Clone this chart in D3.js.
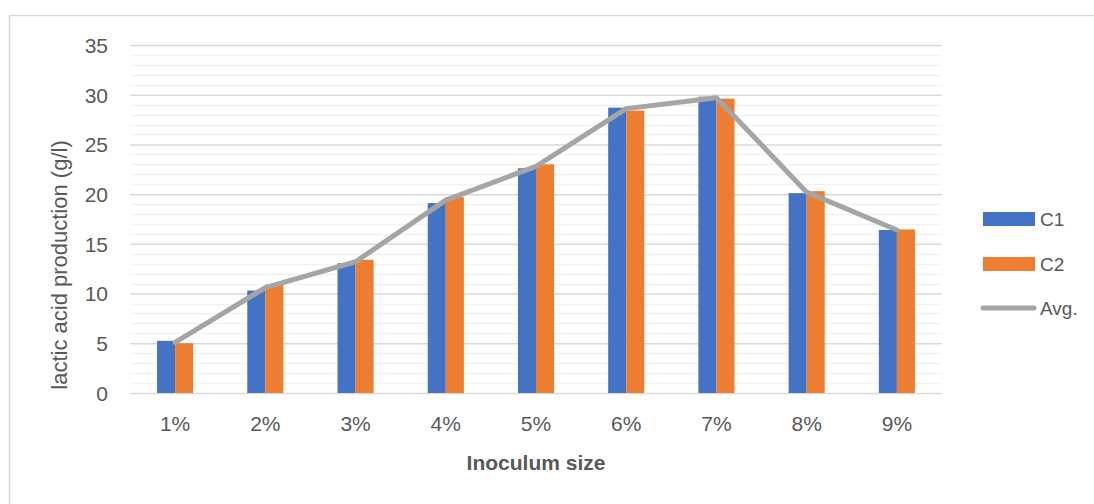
<!DOCTYPE html>
<html>
<head>
<meta charset="utf-8">
<script src="https://cdn.jsdelivr.net/npm/d3@7"></script>
<style>
  html, body { margin: 0; padding: 0; background: #fff; }
  svg { display: block; font-family: "Liberation Sans", Arial, sans-serif; }
</style>
</head>
<body>
<svg id="chart" width="1094" height="504"></svg>
<script>
// Lactic acid production at each inoculum size, two cultures and their mean
const categories = ["1%", "2%", "3%", "4%", "5%", "6%", "7%", "8%", "9%"];
const c1Values  = [5.25, 10.3, 13.05, 19.1, 22.6, 28.7, 29.8, 20.1, 16.4];
const c2Values  = [5.0, 10.9, 13.4, 19.7, 23.0, 28.4, 29.6, 20.3, 16.45];
const avgValues = [5.1, 10.6, 13.2, 19.4, 22.8, 28.6, 29.7, 20.2, 16.4];
const yTicks = [0, 5, 10, 15, 20, 25, 30, 35];
const seriesNames = ["C1", "C2", "Avg."];
const colors = { C1: "#4472C4", C2: "#ED7D31", "Avg.": "#A5A5A5" };

const svg = d3.select("#chart");
const plot = { left: 130, right: 942, top: 45, bottom: 393 };

// outer chart frame
svg.append("rect")
  .attr("x", 9.5).attr("y", 15.5)
  .attr("width", 1100).attr("height", 500)
  .attr("fill", "#fff").attr("stroke", "#d9d9d9").attr("stroke-width", 1.5);

const x = d3.scaleBand().domain(categories).range([plot.left, plot.right]).padding(0);
const y = d3.scaleLinear().domain([0, 35]).range([plot.bottom, plot.top]);

// minor gridlines every unit, major every 5
const minor = d3.range(0, 36).filter(v => v % 5 !== 0);
svg.append("g").selectAll("line").data(minor).join("line")
  .attr("x1", plot.left).attr("x2", plot.right)
  .attr("y1", d => Math.round(y(d)) + 0.5).attr("y2", d => Math.round(y(d)) + 0.5)
  .attr("stroke", "#f2f2f2").attr("stroke-width", 1.5);

const yAxis = d3.axisLeft(y).tickValues(yTicks).tickSize(0).tickPadding(0);
const yg = svg.append("g").attr("transform", `translate(${plot.left},0)`).call(yAxis);
yg.select(".domain").remove();
yg.selectAll(".tick line")
  .attr("x2", plot.right - plot.left)
  .attr("stroke", "#d9d9d9").attr("stroke-width", 1.5);
yg.selectAll(".tick text")
  .attr("x", -22).attr("dy", "0.35em")
  .attr("fill", "#595959").attr("font-size", 21)
  .attr("font-family", "Liberation Sans, Arial, sans-serif");

// clustered bars
const groupW = x.step() * 0.4;
const barW = groupW / 2;
const bars = svg.append("g");
[["C1", c1Values], ["C2", c2Values]].forEach(([name, vals], si) => {
  bars.append("g").selectAll("rect").data(vals).join("rect")
    .attr("x", (d, i) => x(categories[i]) + x.bandwidth() / 2 - groupW / 2 + si * barW)
    .attr("y", d => y(d))
    .attr("width", barW)
    .attr("height", d => y(0) - y(d))
    .attr("fill", colors[name]);
});

// average line
const line = d3.line()
  .x((d, i) => x(categories[i]) + x.bandwidth() / 2)
  .y(d => y(d));
svg.append("path").datum(avgValues)
  .attr("d", line)
  .attr("fill", "none")
  .attr("stroke", colors["Avg."])
  .attr("stroke-width", 5)
  .attr("stroke-linejoin", "round")
  .attr("stroke-linecap", "round");

// x axis labels
const xAxis = d3.axisBottom(x).tickSize(0).tickPadding(0);
const xg = svg.append("g").attr("transform", `translate(0,${plot.bottom})`).call(xAxis);
xg.select(".domain").remove();
xg.selectAll(".tick text")
  .attr("y", 31).attr("dy", "0.35em")
  .attr("fill", "#595959").attr("font-size", 21)
  .attr("font-family", "Liberation Sans, Arial, sans-serif");

// axis titles
svg.append("text")
  .attr("x", (plot.left + plot.right) / 2).attr("y", 463).attr("dy", "0.35em")
  .attr("text-anchor", "middle")
  .attr("fill", "#595959").attr("font-size", 21).attr("font-weight", "bold")
  .text("Inoculum size");

svg.append("text")
  .attr("transform", "translate(59,265) rotate(-90)")
  .attr("dy", "0.35em")
  .attr("text-anchor", "middle")
  .attr("fill", "#595959").attr("font-size", 22)
  .text("lactic acid production (g/l)");

// legend
const legend = svg.append("g");
const legY = [219, 264, 308];
seriesNames.forEach((name, i) => {
  const g = legend.append("g").attr("transform", `translate(0,${legY[i]})`);
  if (name === "Avg.") {
    g.append("line").attr("x1", 983).attr("x2", 1034).attr("y1", 0).attr("y2", 0)
      .attr("stroke", colors[name]).attr("stroke-width", 5).attr("stroke-linecap", "round");
  } else {
    g.append("rect").attr("x", 983).attr("y", -7).attr("width", 52).attr("height", 14)
      .attr("fill", colors[name]);
  }
  g.append("text").attr("x", 1040).attr("y", 0).attr("dy", "0.35em")
    .attr("fill", "#595959").attr("font-size", 19)
    .text(name);
});
</script>
</body>
</html>
